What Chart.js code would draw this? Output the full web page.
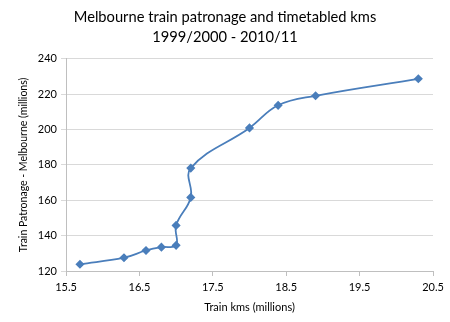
<!DOCTYPE html>
<html><head><meta charset="utf-8">
<script src="https://cdn.jsdelivr.net/npm/chart.js@4"></script>
<style>html,body{margin:0;padding:0;background:#fff}#wrap{width:450px;height:322px}</style>
</head><body><div id="wrap"><canvas id="c" width="450" height="322"></canvas></div>
<script>
const trainKms = [15.69, 16.29, 16.59, 16.80, 17.0, 17.0, 17.2, 17.2, 18.0, 18.39, 18.9, 20.3];
const patronage = [123.8, 127.5, 131.6, 133.5, 134.5, 145.8, 161.6, 178.2, 200.9, 213.7, 219.1, 228.7];
const titleLines = ["Melbourne train patronage and timetabled kms", "1999/2000 - 2010/11"];
const xTitle = "Train kms (millions)";
const yTitle = "Train Patronage - Melbourne (millions)";

const points = trainKms.map((x, i) => ({x: x, y: patronage[i]}));
const FONT = "Lato, 'Open Sans', sans-serif";

new Chart(document.getElementById('c'), {
  type: 'scatter',
  data: { datasets: [{
    data: points,
    showLine: true,
    borderColor: '#4A7EBB',
    backgroundColor: '#4A7EBB',
    borderWidth: 1.8,
    tension: 0.4,
    pointStyle: 'rectRot',
    pointRadius: 3.3,
    pointHoverRadius: 3.3
  }]},
  options: {
    responsive: false,
    animation: false,
    devicePixelRatio: 1,
    layout: { padding: { left: 17, right: 17, top: 8, bottom: 8 } },
    plugins: {
      legend: { display: false },
      tooltip: { enabled: false },
      title: { display: true, text: titleLines, color: '#000', font: { family: FONT, size: 14.7, weight: 'normal', lineHeight: 1.32 }, padding: { top: 0, bottom: 12 } }
    },
    scales: {
      x: {
        type: 'linear', min: 15.5, max: 20.5,
        afterBuildTicks: s => { s.ticks = [15.5,16.5,17.5,18.5,19.5,20.5].map(v => ({value: v})); },
        ticks: { color: '#000', font: { family: FONT, size: 11 }, padding: 5, callback: v => v.toFixed(1) },
        grid: { display: true, drawOnChartArea: false, drawTicks: true, tickLength: 5, color: '#BFBFBF' },
        border: { color: '#BFBFBF' },
        title: { display: true, text: xTitle, color: '#000', font: { family: FONT, size: 11 }, padding: { top: 2, bottom: 0 } },
        afterFit: s => { s.height = 43; }
      },
      y: {
        min: 120, max: 240,
        ticks: { stepSize: 20, color: '#000', font: { family: FONT, size: 11 }, padding: 4 },
        grid: { color: '#D9D9D9', tickLength: 5, drawTicks: true },
        border: { color: '#BFBFBF' },
        title: { display: true, text: yTitle, color: '#000', font: { family: FONT, size: 10.5 }, padding: { top: 0, bottom: 2 } },
        afterFit: s => { s.width = 49; }
      }
    }
  }
});
</script></body></html>
